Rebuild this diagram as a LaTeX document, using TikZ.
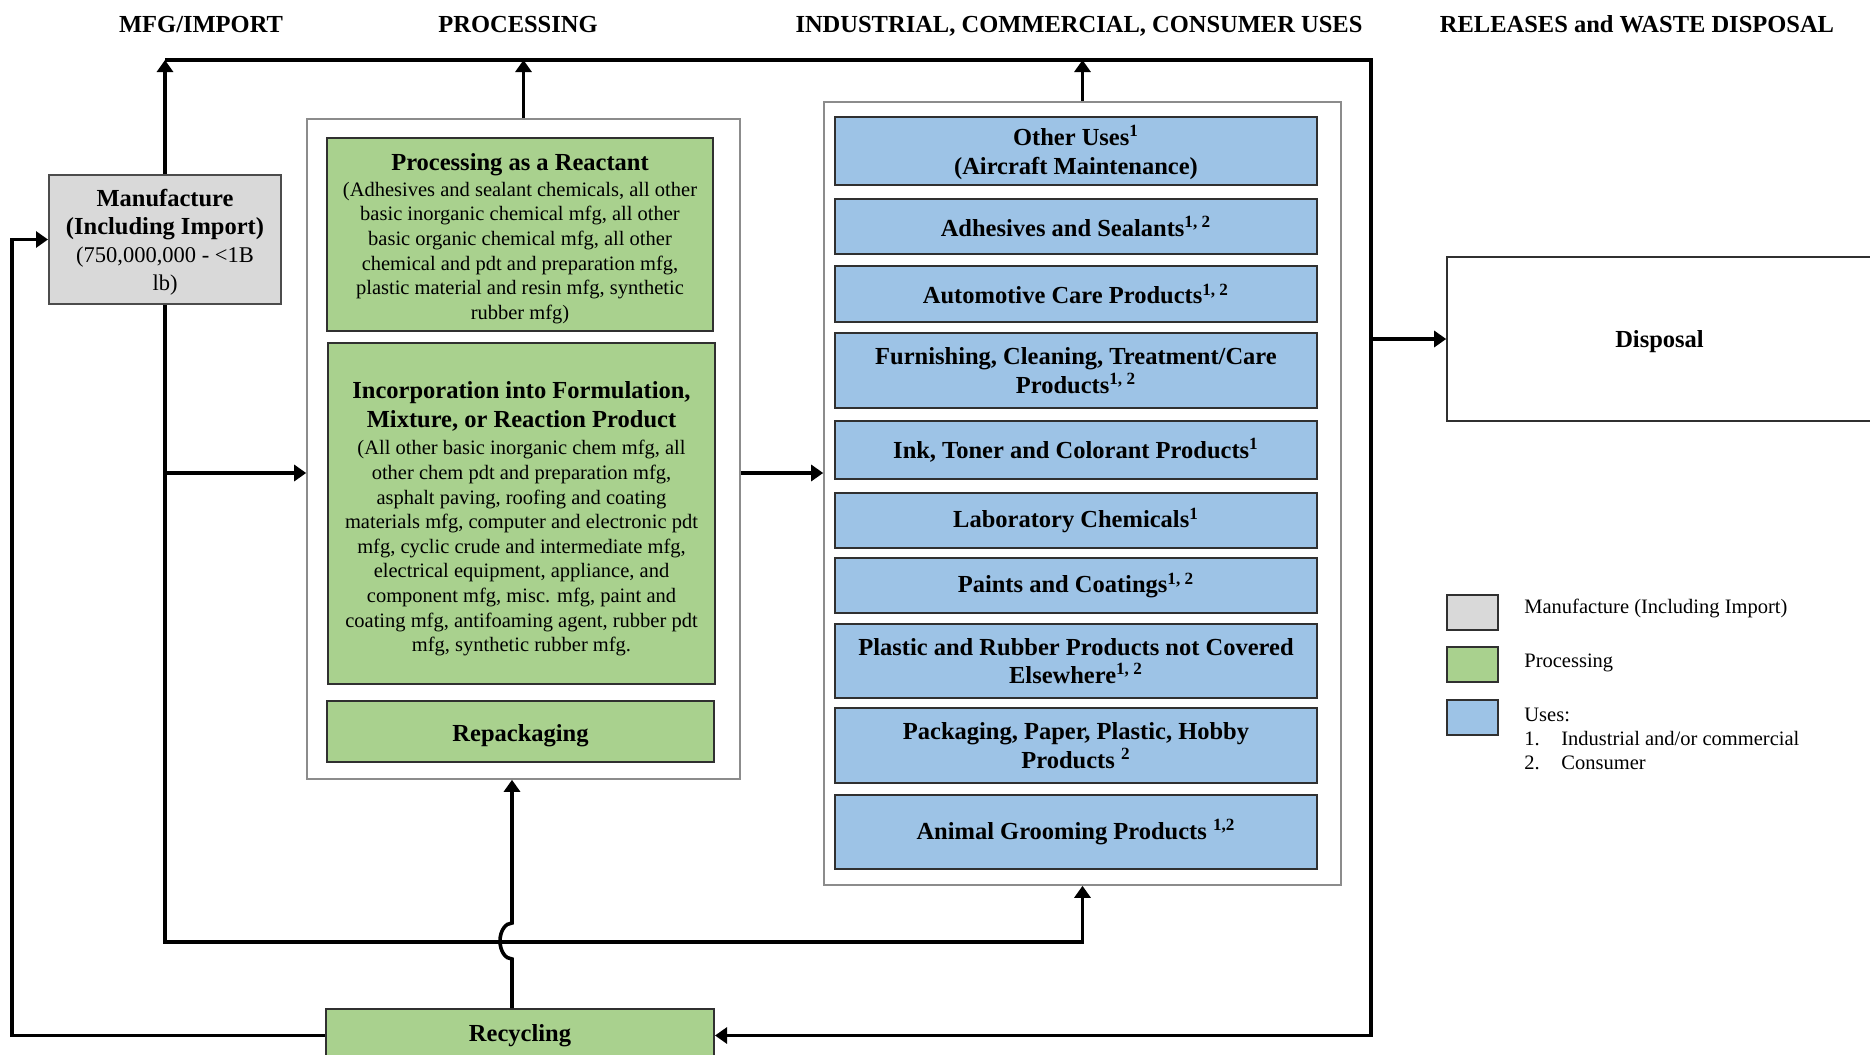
\documentclass[tikz,border=0pt]{standalone}
\usepackage{fontspec}
\setmainfont{Liberation Serif}
\usetikzlibrary{arrows.meta}
\definecolor{mfggray}{HTML}{D9D9D9}
\definecolor{procgreen}{HTML}{A9D18E}
\definecolor{usesblue}{HTML}{9DC3E6}
\definecolor{edge}{HTML}{303030}
\definecolor{frame}{HTML}{8C8C8C}
\newcommand\bodysize{\fontsize{10.25pt}{12.3pt}\selectfont}
\newcommand\headsize{\fontsize{12.25pt}{14.3pt}\selectfont}
% extra height on a first line pushes a centred text block down by half of it
\newcommand\lowerby[1]{\rule{0pt}{\dimexpr 9pt+#1\relax}}

\begin{document}
\begin{tikzpicture}[x=0.5pt,y=-0.5pt,
  stepbox/.style={draw=edge,line width=1pt,inner sep=0pt,align=center},
  mfgbox/.style={stepbox,fill=mfggray,draw=black!70},
  procstep/.style={stepbox,fill=procgreen},
  usestep/.style={stepbox,fill=usesblue,minimum width=241pt,font=\headsize\bfseries},
  groupframe/.style={draw=frame,line width=0.8pt,fill=white,inner sep=0pt},
  colhead/.style={anchor=base,font=\headsize\bfseries,inner sep=0pt},
  flow/.style={line width=1.8pt,-{Triangle[length=6pt,width=8pt]}},
  swatch/.style={draw=edge,line width=1pt,minimum width=25.5pt,minimum height=17.5pt,inner sep=0pt},
  legendtext/.style={anchor=base west,font=\bodysize,inner sep=0pt}]
\useasboundingbox (0,0) rectangle (1870,1055);

% column headings
\node[colhead] (hmfg)  at (201,32)  {MFG/IMPORT};
\node[colhead] (hproc) at (518,32)  {PROCESSING};
\node[colhead] (huse)  at (1079,32) {INDUSTRIAL, COMMERCIAL, CONSUMER USES};
\node[colhead] (hrel)  at (1637,32) {RELEASES and WASTE DISPOSAL};

% manufacture
\node[mfgbox,minimum width=116pt,minimum height=64.5pt,font=\fontsize{11.25pt}{13.9pt}\selectfont]
  (mfg) at (165,239.5)
  {{\headsize\bfseries\lowerby{2.5pt}Manufacture}\\{\headsize\bfseries (Including Import)}\\(750,000,000 - <1B\\lb)};

% processing group
\node[groupframe,minimum width=216.5pt,minimum height=330pt] (procbox) at (523.5,449) {};
\node[procstep,minimum width=193pt,minimum height=96.5pt,font=\bodysize] (react) at (520,234.5)
  {{\headsize\bfseries\lowerby{3.5pt}Processing as a Reactant}\\[0.7pt]
   (Adhesives and sealant chemicals, all other\\
   basic inorganic chemical mfg, all other\\
   basic organic chemical mfg, all other\\
   chemical and pdt and preparation mfg,\\
   plastic material and resin mfg, synthetic\\
   rubber mfg)};
\node[procstep,minimum width=193.5pt,minimum height=170.5pt,font=\bodysize] (incorp) at (521.5,513.5)
  {{\headsize\bfseries\lowerby{5pt}Incorporation into Formulation,}\\[2pt]
   {\headsize\bfseries Mixture, or Reaction Product}\\[1.4pt]
   (All other basic inorganic chem mfg, all\\
   other chem pdt and preparation mfg,\\
   asphalt paving, roofing and coating\\
   materials mfg, computer and electronic pdt\\
   mfg, cyclic crude and intermediate mfg,\\
   electrical equipment, appliance, and\\
   component mfg, misc. mfg, paint and\\
   coating mfg, antifoaming agent, rubber pdt\\
   mfg, synthetic rubber mfg.};
\node[procstep,minimum width=193.5pt,minimum height=30.5pt,font=\headsize\bfseries] (repack) at (520.5,731.5)
  {\lowerby{4pt}Repackaging};

% uses group
\node[groupframe,minimum width=258.5pt,minimum height=391.5pt] (usebox) at (1082.5,493.5) {};
\node[usestep,minimum height=34pt]   (other) at (1076,151)   {\lowerby{2.5pt}Other Uses\textsuperscript{1}\\(Aircraft Maintenance)};
\node[usestep,minimum height=27.5pt] (adhes) at (1076,226.5) {Adhesives and Sealants\textsuperscript{1, 2}};
\node[usestep,minimum height=28pt]   (autoc) at (1076,294)   {Automotive Care Products\textsuperscript{1, 2}};
\node[usestep,minimum height=37.5pt] (furn)  at (1076,370.5) {Furnishing, Cleaning, Treatment/Care\\Products\textsuperscript{1, 2}};
\node[usestep,minimum height=29pt]   (ink)   at (1076,450)   {Ink, Toner and Colorant Products\textsuperscript{1}};
\node[usestep,minimum height=27.5pt] (lab)   at (1076,520.5) {Laboratory Chemicals\textsuperscript{1}};
\node[usestep,minimum height=27.5pt] (paint) at (1076,585.5) {Paints and Coatings\textsuperscript{1, 2}};
\node[usestep,minimum height=37pt]   (plast) at (1076,661)   {Plastic and Rubber Products not Covered\\Elsewhere\textsuperscript{1, 2}};
\node[usestep,minimum height=37.5pt] (pack)  at (1076,745.5) {Packaging, Paper, Plastic, Hobby\\Products \textsuperscript{2}};
\node[usestep,minimum height=37pt]   (animal) at (1076,832)  {Animal Grooming Products \textsuperscript{1,2}};

% disposal and recycling
\node[stepbox,draw=edge,line width=0.8pt,minimum width=212.5pt,minimum height=82pt,font=\headsize\bfseries]
  (disposal) at (1659.5,339) {\lowerby{2.5pt}Disposal};
\node[procstep,minimum width=194pt,minimum height=26.5pt,font=\headsize\bfseries] (recyc) at (520,1035.5) {Recycling};

% connectors
\coordinate (tr) at (1371,60);
\coordinate (branch) at (165,473);
\coordinate (bottomrun) at (1082.5,942);
\coordinate (leftrun) at (12,0);

\draw[flow] (mfg.north |- tr) -- (tr) |- (recyc.east);
\draw[flow] (mfg.north) -- (mfg.north |- tr);
\draw[flow] (procbox.north) -- (procbox.north |- tr);
\draw[flow] (usebox.north) -- (usebox.north |- tr);
\draw[flow] (tr |- disposal.west) -- (disposal.west);
\draw[flow] (mfg.south) |- (bottomrun) -- (usebox.south);
\draw[flow] (branch) -- (procbox.west |- branch);
\draw[flow] (procbox.east |- branch) -- (usebox.west |- branch);
\draw[flow] (recyc.west) -| (leftrun |- mfg.west) -- (mfg.west);
\draw[flow] ([xshift=-4pt]recyc.north) -- ++(0,-49)
  arc[start angle=-90,end angle=-270,x radius=6pt,y radius=9pt]
  -- ([xshift=-5.75pt]procbox.south);

% legend
\node[swatch,fill=mfggray]   (kmfg)  at (1472.5,612.5) {};
\node[swatch,fill=procgreen] (kproc) at (1472.5,664.5) {};
\node[swatch,fill=usesblue]  (kuse)  at (1472.5,717.5) {};
\node[legendtext] (tmfg)  at (1524,613) {Manufacture (Including Import)};
\node[legendtext] (tproc) at (1524,667) {Processing};
\node[legendtext] (tuse)  at (1524,721) {Uses:};
\node[legendtext] (tn1)   at (1524,745) {1.};
\node[legendtext] (tind)  at (1561,745) {Industrial and/or commercial};
\node[legendtext] (tn2)   at (1524,769) {2.};
\node[legendtext] (tcon)  at (1561,769) {Consumer};
\end{tikzpicture}
\end{document}
